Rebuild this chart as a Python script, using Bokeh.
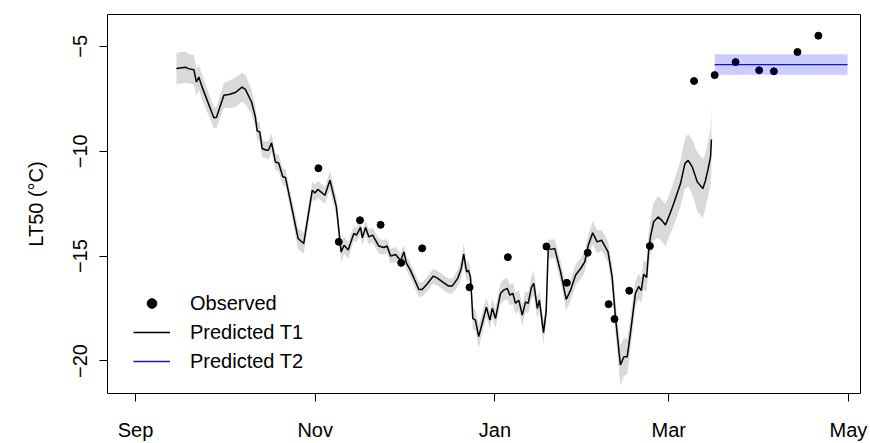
import numpy as np
from bokeh.plotting import figure
from bokeh.models import FixedTicker, Legend, LegendItem, Range1d
from bokeh.embed import file_html
from bokeh.resources import INLINE

# ---- data (x = days since 1 Sep) ----
month_ticks = [0, 61, 122, 181, 242]
month_labels = ["Sep", "Nov", "Jan", "Mar", "May"]
y_ticks = [-20, -15, -10, -5]

t1_day = [
    13.9, 17.0, 17.9, 19.8, 20.7, 21.5, 22.4, 26.6, 27.5, 30.0,
    31.7, 33.9, 36.2, 37.3, 39.4, 40.7, 41.3, 42.2, 43.0, 44.5,
    45.1, 46.2, 47.5, 48.6, 50.0, 50.9, 53.0, 55.2, 57.1, 60.0,
    60.9, 61.9, 64.3, 66.0, 68.2, 69.8, 70.8, 72.2, 74.1, 75.0,
    76.4, 77.0, 78.1, 79.2, 80.5, 82.6, 84.3, 85.4, 86.6, 88.3,
    90.0, 91.1, 92.0, 93.3, 96.2, 97.3, 99.0, 101.1, 102.6, 104.1,
    106.3, 107.5, 109.4, 110.6, 111.4, 112.4, 113.0, 113.7, 114.1, 114.5,
    115.4, 116.5, 117.7, 119.1, 120.3, 121.1, 122.2, 123.9, 125.0, 126.2,
    127.1, 128.1, 129.0, 130.1, 131.3, 132.4, 133.3, 134.4, 135.2, 136.4,
    137.1, 138.5, 139.4, 140.1, 141.2, 142.3, 144.3, 146.2, 147.7, 149.4,
    151.1, 152.5, 153.7, 155.2, 156.7, 158.2, 160.4, 161.8, 162.9, 164.6,
    165.8, 166.9, 168.0, 169.7, 170.8, 171.7, 172.5, 173.5, 174.2, 174.8,
    175.9, 177.4, 178.8, 179.9, 181.0, 182.7, 185.0, 186.5, 187.6, 189.0,
    190.7, 192.6, 193.5, 194.4, 195.2, 195.5,
]
t1_lt50 = [
    -6.05, -5.99, -6.06, -6.11, -6.70, -6.46, -6.86, -8.40, -8.38, -7.33,
    -7.29, -7.20, -6.94, -7.05, -7.65, -8.37, -9.03, -9.08, -9.87, -9.95,
    -9.95, -9.60, -10.51, -10.56, -11.22, -11.25, -12.65, -14.16, -14.40, -11.86,
    -11.99, -11.82, -12.10, -11.38, -12.65, -14.80, -14.48, -14.71, -13.92, -14.00,
    -13.63, -14.13, -13.63, -14.08, -14.00, -14.52, -14.59, -14.52, -15.00, -14.92,
    -15.22, -14.80, -15.35, -15.67, -16.59, -16.59, -16.33, -15.95, -16.06, -16.22,
    -16.43, -16.43, -16.06, -15.59, -14.90, -15.75, -15.67, -15.99, -16.90, -17.97,
    -18.05, -18.84, -18.20, -17.44, -18.05, -17.49, -17.97, -16.78, -16.62, -16.54,
    -16.86, -16.78, -17.25, -17.10, -17.81, -17.18, -17.25, -16.49, -16.30, -17.49,
    -17.10, -18.65, -17.65, -14.63, -14.68, -14.63, -15.75, -17.06, -16.62, -15.90,
    -15.59, -15.27, -14.48, -13.89, -14.32, -14.24, -14.80, -15.99, -17.89, -20.19,
    -19.80, -19.80, -18.68, -16.78, -16.45, -16.64, -15.86, -16.02, -14.71, -14.08,
    -13.36, -13.13, -13.32, -13.52, -13.13, -12.49, -11.54, -10.59, -10.43, -10.75,
    -11.46, -11.78, -11.38, -10.82, -10.27, -9.44,
]
t1_spread = [
    0.75, 0.75, 0.70, 0.70, 0.65, 0.60, 0.60, 0.50, 0.50, 0.60,
    0.65, 0.70, 0.70, 0.70, 0.60, 0.50, 0.45, 0.45, 0.40, 0.40,
    0.45, 0.45, 0.40, 0.40, 0.40, 0.40, 0.45, 0.50, 0.50, 0.40,
    0.40, 0.40, 0.40, 0.45, 0.45, 0.50, 0.40, 0.40, 0.35, 0.35,
    0.35, 0.35, 0.35, 0.35, 0.35, 0.35, 0.35, 0.35, 0.35, 0.35,
    0.35, 0.35, 0.35, 0.35, 0.35, 0.35, 0.35, 0.35, 0.35, 0.35,
    0.35, 0.35, 0.40, 0.45, 0.50, 0.45, 0.45, 0.40, 0.45, 0.50,
    0.50, 0.55, 0.50, 0.45, 0.45, 0.45, 0.45, 0.50, 0.50, 0.50,
    0.50, 0.50, 0.50, 0.50, 0.50, 0.50, 0.50, 0.55, 0.60, 0.50,
    0.50, 0.55, 0.50, 0.45, 0.45, 0.45, 0.50, 0.55, 0.50, 0.50,
    0.50, 0.50, 0.50, 0.55, 0.55, 0.50, 0.50, 0.60, 0.75, 0.95,
    0.90, 0.85, 0.80, 0.60, 0.60, 0.60, 0.70, 0.70, 0.80, 0.85,
    0.90, 1.00, 1.00, 1.00, 1.00, 1.05, 1.10, 1.20, 1.25, 1.30,
    1.40, 1.40, 1.30, 1.30, 1.35, 1.50,
]

obs_day = [62.1, 69.0, 76.2, 83.2, 90.2, 97.3, 113.4, 126.4, 139.5, 146.4,
           153.5, 160.6, 162.6, 167.6, 174.6, 189.6, 196.6, 203.7, 211.7, 216.7,
           224.7, 231.8]
obs_lt50 = [-10.81, -14.32, -13.29, -13.51, -15.32, -14.63, -16.49, -15.05, -14.54, -16.27,
            -14.84, -17.29, -18.00, -16.65, -14.52, -6.65, -6.37, -5.75, -6.14, -6.19,
            -5.27, -4.49]

t2_day = [196.6, 241.7]
t2_lt50 = [-5.87, -5.87]
t2_low = [-6.35, -6.35]
t2_high = [-5.38, -5.38]

FONT = "Liberation Sans"

t1_d = np.array(t1_day)
t1_v = np.array(t1_lt50)
t1_s = np.array(t1_spread)

p = figure(width=870, height=443,
           x_range=Range1d(-9.5, 246.1), y_range=Range1d(-21.55, -3.48),
           output_backend="svg", toolbar_location=None,
           min_border_left=107, min_border_right=10, min_border_top=14, min_border_bottom=50)

p.background_fill_color = "white"
p.border_fill_color = "white"
p.outline_line_color = "black"
p.outline_line_width = 1
p.xgrid.visible = False
p.ygrid.visible = False

# T1 band and line
p.varea(x=t1_d, y1=t1_v - t1_s, y2=t1_v + t1_s, fill_color="#d9d9d9")
r_t1 = p.line(t1_d, t1_v, line_color="black", line_width=1.5)

# T2 line
r_t2 = p.line(t2_day, t2_lt50, line_color="#1a1ab8", line_width=1.3)

# observed
r_obs = p.scatter(obs_day, obs_lt50, size=7, marker="circle",
                  fill_color="black", line_color="black")

# T2 band drawn on top (semi-transparent)
p.varea(x=t2_day, y1=t2_low, y2=t2_high, fill_color="blue", fill_alpha=0.2)

# axes
for ax in (p.xaxis[0], p.yaxis[0]):
    ax.axis_line_color = None
    ax.major_tick_line_color = "black"
    ax.major_tick_line_width = 1
    ax.major_tick_in = 0
    ax.major_tick_out = 8
    ax.minor_tick_line_color = None
    ax.major_label_text_font = FONT
    ax.major_label_text_font_size = "20px"
    ax.major_label_text_color = "black"

p.xaxis.ticker = FixedTicker(ticks=month_ticks)
p.xaxis.major_label_overrides = {t: l for t, l in zip(month_ticks, month_labels)}
p.xaxis.major_label_standoff = 17

p.yaxis.ticker = FixedTicker(ticks=y_ticks)
p.yaxis.major_label_orientation = "vertical"
p.yaxis.major_label_standoff = 12
p.yaxis.axis_label = "LT50 (\u00b0C)"
p.yaxis.axis_label_text_font = FONT
p.yaxis.axis_label_text_font_size = "20px"
p.yaxis.axis_label_text_font_style = "normal"
p.yaxis.axis_label_text_color = "black"
p.yaxis.axis_label_standoff = 24

legend = Legend(items=[
    LegendItem(label="Observed", renderers=[r_obs]),
    LegendItem(label="Predicted T1", renderers=[r_t1]),
    LegendItem(label="Predicted T2", renderers=[r_t2]),
], location=(26, 20))
legend.padding = 0
legend.margin = 0
legend.spacing = 5
legend.glyph_width = 37
legend.glyph_height = 24
legend.label_height = 24
legend.label_standoff = 20
legend.label_text_font = FONT
legend.label_text_font_size = "20px"
legend.label_text_color = "black"
legend.background_fill_alpha = 0
legend.border_line_color = None
p.add_layout(legend)

open("out.html", "w").write(file_html(p, INLINE))
